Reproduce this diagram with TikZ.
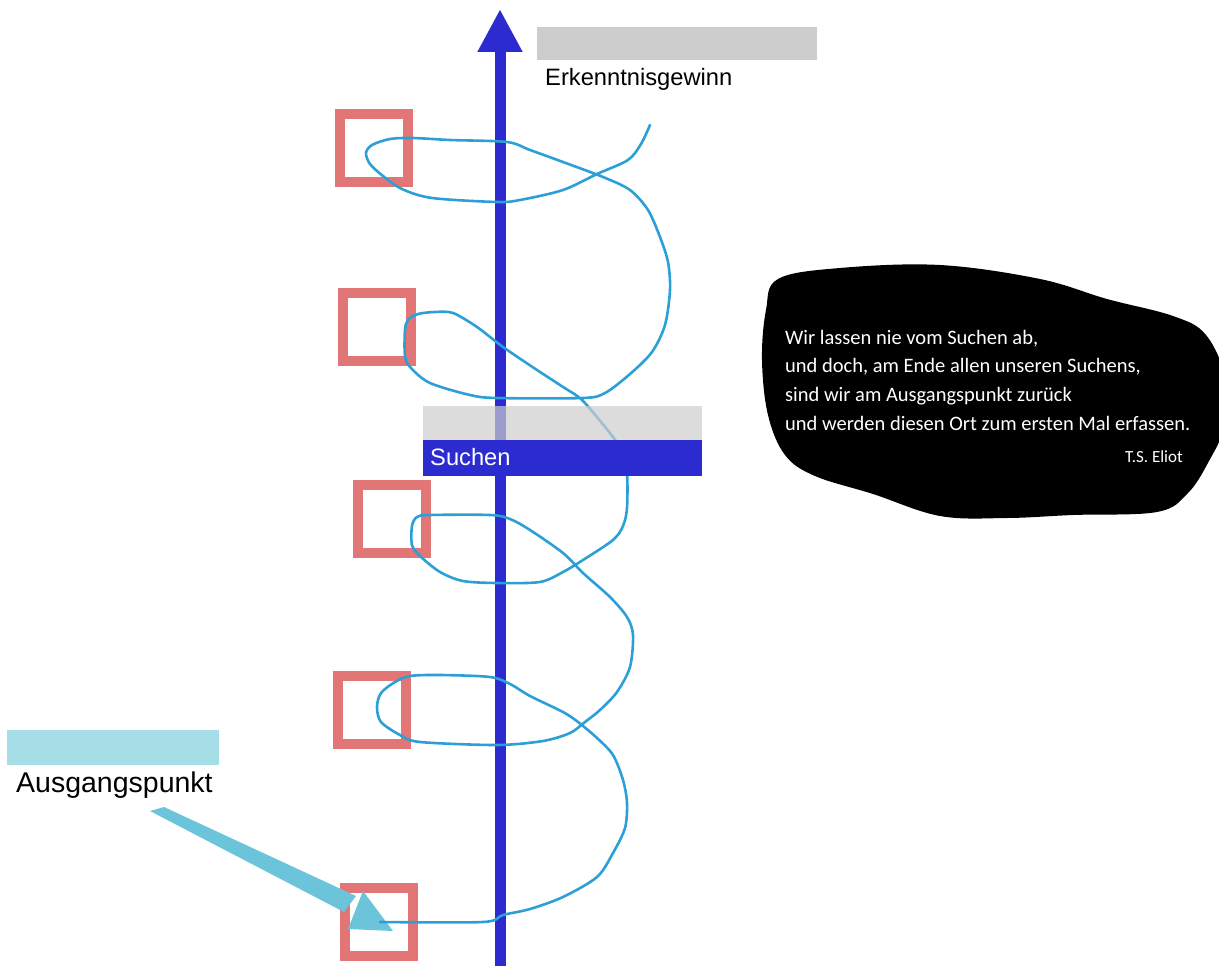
\documentclass[tikz,border=0pt]{standalone}
\usepackage{fontspec}
\setmainfont{Liberation Sans}
\newfontfamily\quotefont{Carlito}
\usetikzlibrary{arrows.meta}
\definecolor{axisblue}{RGB}{43,43,208}
\definecolor{salmon}{RGB}{226,118,118}
\definecolor{curveblue}{RGB}{44,160,214}
\definecolor{barGray}{RGB}{205,205,205}
\definecolor{cyanbar}{RGB}{166,222,232}
\definecolor{cyanarrow}{RGB}{108,196,218}
\begin{document}
\begin{tikzpicture}[x=1pt,y=-1pt,
  sbox/.style={draw=salmon,line width=10pt,minimum size=68pt,inner sep=0pt},
  lbl/.style={anchor=base west,inner sep=0pt,font=\fontsize{23.7}{28}\selectfont},
  qline/.style={anchor=base west,inner sep=0pt,text=white,font=\quotefont\fontsize{20.5}{29}\selectfont},
  graybar/.style={fill=barGray,opacity=0.7}]
\useasboundingbox (0,0) rectangle (1219,966);
% top gray bar and label
\fill[barGray] (537,27) rectangle (817,60);
\node[lbl] (erk) at (545,85) {Erkenntnisgewinn};
% axis
\coordinate (axbot) at (500,966);
\coordinate (axtop) at (500,9);
\draw[axisblue,line width=11pt,-{Triangle[width=42pt,length=43pt]}] (axbot) -- (axtop);
% boxes
\node[sbox] (b1) at (374,147.5) {};
\node[sbox] (b2) at (377,327) {};
\node[sbox] (b3) at (392,519) {};
\node[sbox] (b4) at (372,710) {};
\node[sbox] (b5) at (378.5,921.5) {};
% cyan arrow from Ausgangspunkt
\fill[cyanbar] (7,730) rectangle (219,765);
\node[lbl,font=\fontsize{28.5}{33}\selectfont] (aus) at (16,792) {Ausgangspunkt};
\coordinate (as1) at (150,811);
\coordinate (as2) at (164,807);
\coordinate (ah1) at (363,891);
\coordinate (ah2) at (393,931);
\coordinate (ah3) at (348,929);
\fill[cyanarrow] (as1) -- (as2) -- (356,896) -- (344,912) -- cycle;
\fill[cyanarrow] (ah1) -- (ah2) -- (ah3) -- cycle;
% spiral curve
\draw[curveblue,line width=2.6pt,line join=round,line cap=round]
 plot[smooth,tension=0.5] coordinates {
 (380,922) (483,922) (503,915) (530,909) (563,897) (597,877) (613,853) (625,828)
 (627,803) (623,780) (613,755) (597,738) (578,722) (563,712) (530,696) (510,684)
 (490,677) (440,675) (410,676) (395,682) (381,693) (377,707) (381,722) (400,735)
 (420,742) (497,745) (543,741) (570,733) (585,722) (600,710) (617,692) (630,667)
 (633,635) (627,617) (610,597) (583,573) (563,553) (530,530) (510,519) (490,515)
 (430,515) (417,517) (412,526) (412,545) (420,556) (440,572) (463,581) (497,583)
 (540,582) (563,572) (583,560) (613,540) (623,526) (627,508) (627,473) (622,452)
 (613,437) (583,401) (563,387) (537,370) (503,347) (477,327) (453,313) (435,312)
 (418,314) (408,320) (405,330) (405,356) (411,368) (430,383) (470,395) (497,398)
 (583,398) (605,393) (630,374) (652,352) (665,325) (670,290) (668,262) (660,237)
 (648,210) (630,190) (603,177) (563,162) (530,150) (507,142) (450,140) (413,138)
 (390,139) (372,145) (366,153) (370,164) (383,176) (402,189) (432,198) (497,202)
 (520,200) (563,190) (597,174) (628,160) (641,144) (650,125)};
% Suchen bars
\fill[graybar] (423,406) rectangle (702,440);
\fill[axisblue] (423,440) rectangle (702,476);
\node[lbl,text=white] (such) at (430,465) {Suchen};
% quote blob
\begin{scope}
\clip (0,0) rectangle (1219,966);
\fill[black] plot[smooth cycle,tension=0.6] coordinates {
 (778,279) (840,268) (940,265) (1040,279) (1107,299) (1173,316) (1206,335)
 (1226,380) (1224,427) (1209,461) (1188,493) (1157,512) (1073,515) (1007,518)
 (940,516) (873,494) (815,476) (785,455) (768,415) (762,360) (766,310)};
\end{scope}
\node[qline] (q1) at (785,344) {Wir lassen nie vom Suchen ab,};
\node[qline] (q2) at (785,372) {und doch, am Ende allen unseren Suchens,};
\node[qline] (q3) at (785,401) {sind wir am Ausgangspunkt zurück};
\node[qline] (q4) at (785,430) {und werden diesen Ort zum ersten Mal erfassen.};
\node[qline,anchor=base east,font=\quotefont\fontsize{17}{20}\selectfont] (q5) at (1183,462) {T.S. Eliot};
\end{tikzpicture}
\end{document}
